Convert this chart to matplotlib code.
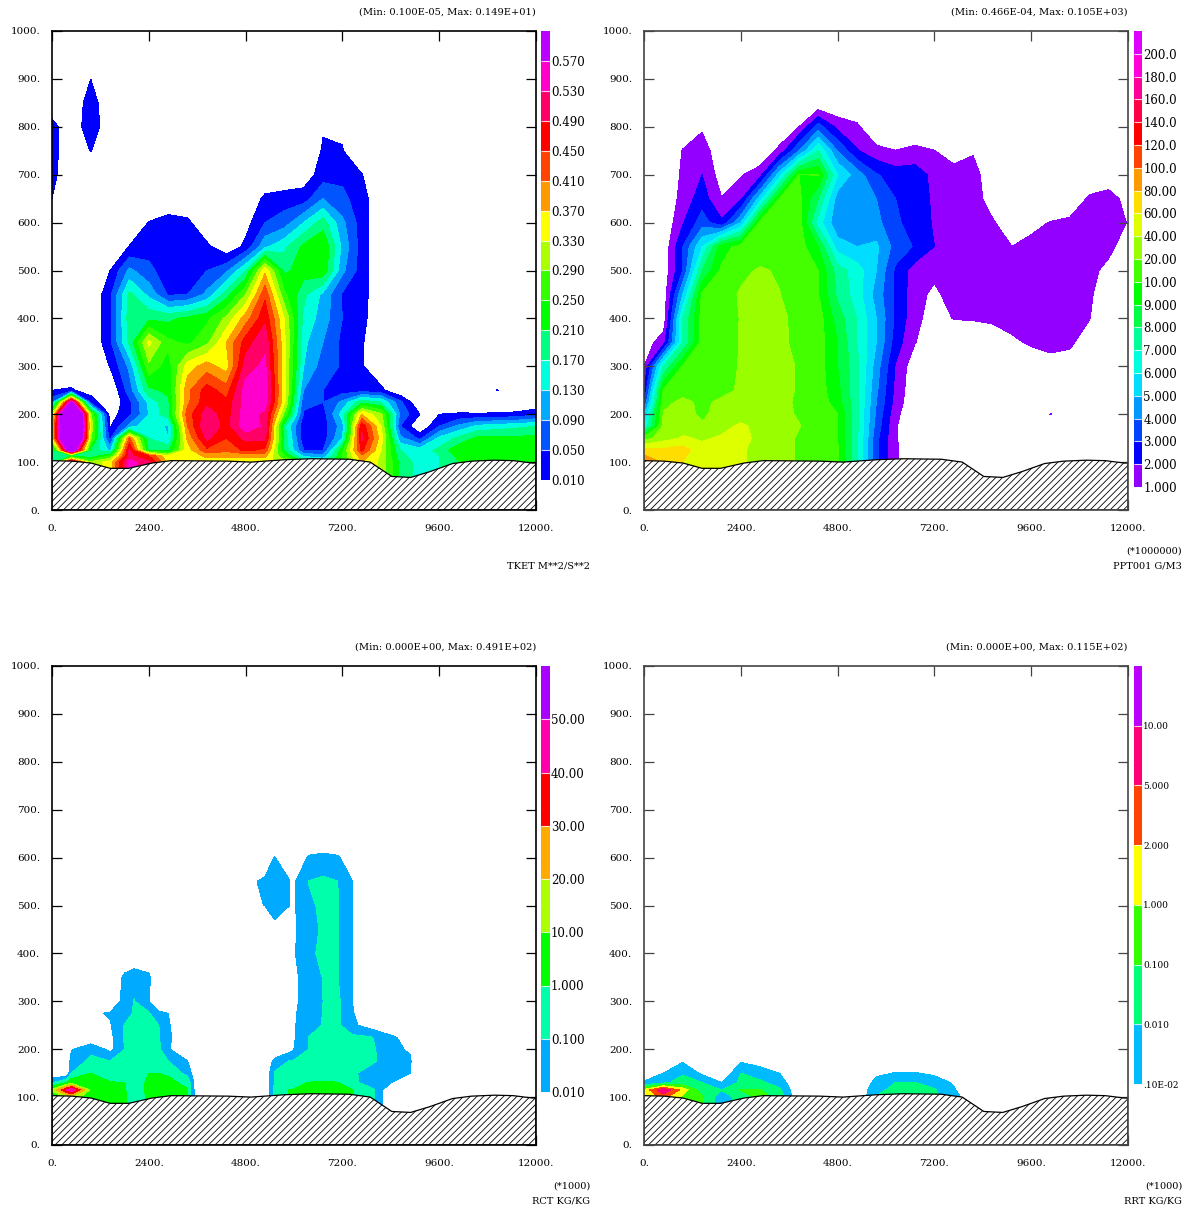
import numpy as np
import matplotlib
matplotlib.use("Agg")
from matplotlib import pyplot as plt

plt.rcParams['font.family'] = 'DejaVu Serif'
plt.rcParams['hatch.linewidth'] = 0.6

W, H = 1189, 1207

xticks = [0, 2400, 4800, 7200, 9600, 12000]
yticks = [0, 100, 200, 300, 400, 500, 600, 700, 800, 900, 1000]

terrain_x = [0, 500, 970, 1440, 1900, 2480, 2950, 4360, 4930, 5780, 6430, 7370, 7890, 8425, 8895, 9367, 9932, 10403, 10969, 11440, 11910, 12000]
terrain_z = [103, 102, 98, 87, 87, 98, 103, 102, 100, 105, 107, 106, 100, 70, 68, 80, 97, 102, 104, 103, 98, 98]

grid_x = [0, 480, 960, 1440, 1920, 2400, 2880, 3360, 3840, 4320, 4800, 5280, 5760, 6240, 6720, 7200, 7680, 8160, 8640, 9120, 9600, 10080, 10560, 11040, 11520, 12000]
grid_z = [100, 125, 150, 175, 200, 225, 250, 300, 350, 400, 450, 500, 550, 600, 650, 700, 750, 800, 850, 900, 950]

# TKET
tke_z = [100, 113, 125, 150, 175, 200, 225, 250, 300, 350, 400, 450, 500, 550, 600, 650, 700, 750, 800, 850, 900, 950]
tke_levels = [0.01, 0.05, 0.09, 0.13, 0.17, 0.21, 0.25, 0.29, 0.33, 0.37, 0.41, 0.45, 0.49, 0.53, 0.57]
tke_colors = ['#0000ff', '#0055ff', '#00aaff', '#00ffdd', '#00ff80', '#00ff00', '#33ff00', '#aaff00', '#ffff00', '#ff9900', '#ff4400', '#ff0000', '#ff0066', '#ff00cc', '#bb00ff']
tke = [
    [.15, .55, .30, .35, .55, .50, .36, .33, .35, .35, .35, .35, .30, .22, .18, .25, .37, .32, .20, .15, .17, .21, .22, .22, .22, .22],
    [.20, .20, .18, .25, .50, .45, .33, .34, .38, .38, .38, .38, .25, .12, .10, .25, .40, .32, .18, .15, .17, .22, .23, .23, .23, .23],
    [.15, .80, .20, .12, .50, .20, .20, .35, .44, .42, .46, .44, .20, .05, .05, .24, .46, .33, .17, .15, .18, .24, .24, .24, .25, .24],
    [.33, 1.40, .30, .03, .42, .17, .13, .38, .50, .45, .50, .50, .20, .02, .03, .13, .50, .35, .10, .04, .14, .18, .22, .22, .22, .22],
    [.33, 1.45, .32, .009, .10, .17, .12, .41, .53, .47, .56, .52, .18, .02, .03, .11, .48, .33, .05, 0, .05, .10, .14, .15, .16, .17],
    [.30, 1.40, .30, .005, .04, .13, .20, .43, .51, .47, .55, .52, .28, .045, .03, .15, .37, .30, .08, .01, .01, .015, .014, .015, .02, .04],
    [.08, .62, .035, 0, .04, .14, .20, .40, .48, .46, .55, .55, .34, .06, .05, .10, .20, .17, .06, 0, 0, 0, 0, 0, 0, 0],
    [.01, .015, .005, 0, .07, .20, .22, .40, .47, .43, .55, .56, .34, .09, .05, .03, .03, .02, 0, 0, 0, 0, 0, .012, 0, 0],
    [0, 0, 0, .012, .10, .28, .23, .35, .39, .35, .51, .54, .34, .13, .07, .045, .015, 0, 0, 0, 0, 0, 0, 0, 0, 0],
    [0, 0, 0, .04, .18, .34, .26, .24, .28, .37, .47, .52, .34, .14, .09, .04, .015, 0, 0, 0, 0, 0, 0, 0, 0, 0],
    [0, 0, 0, .04, .19, .20, .20, .22, .24, .30, .39, .48, .33, .16, .11, .05, .025, 0, 0, 0, 0, 0, 0, 0, 0, 0],
    [0, 0, 0, .04, .18, .12, .045, .05, .10, .19, .29, .44, .26, .18, .12, .045, .03, 0, 0, 0, 0, 0, 0, 0, 0, 0],
    [0, 0, 0, .01, .10, .06, .03, .03, .05, .08, .17, .36, .20, .23, .24, .10, .03, 0, 0, 0, 0, 0, 0, 0, 0, 0],
    [0, 0, 0, 0, .012, .035, .03, .03, .02, .002, .02, .12, .16, .22, .25, .12, .03, 0, 0, 0, 0, 0, 0, 0, 0, 0],
    [0, 0, 0, 0, 0, .012, .03, .02, 0, 0, .006, .05, .07, .13, .19, .10, .03, 0, 0, 0, 0, 0, 0, 0, 0, 0],
    [.01, 0, 0, 0, 0, 0, 0, 0, 0, 0, 0, .02, .03, .03, .09, .06, .03, 0, 0, 0, 0, 0, 0, 0, 0, 0],
    [.025, 0, 0, 0, 0, 0, 0, 0, 0, 0, 0, 0, 0, .004, .03, .04, .012, 0, 0, 0, 0, 0, 0, 0, 0, 0],
    [.03, 0, .012, 0, 0, 0, 0, 0, 0, 0, 0, 0, 0, 0, .015, .012, 0, 0, 0, 0, 0, 0, 0, 0, 0, 0],
    [.03, 0, .045, 0, 0, 0, 0, 0, 0, 0, 0, 0, 0, 0, .009, .0085, 0, 0, 0, 0, 0, 0, 0, 0, 0, 0],
    [0, 0, .035, 0, 0, 0, 0, 0, 0, 0, 0, 0, 0, 0, 0, 0, 0, 0, 0, 0, 0, 0, 0, 0, 0, 0],
    [0, 0, .010, 0, 0, 0, 0, 0, 0, 0, 0, 0, 0, 0, 0, 0, 0, 0, 0, 0, 0, 0, 0, 0, 0, 0],
    [0] * 26,
]

# PPT001
ppt_levels = [1, 2, 3, 4, 5, 6, 7, 8, 9, 10, 20, 40, 60, 80, 100, 120, 140, 160, 180, 200]
ppt_colors = ['#9400ff', '#0000ff', '#0044ff', '#0099ff', '#00ddff', '#00ffdd', '#00ff99', '#00ff44', '#00ff00', '#44ff00', '#99ff00', '#ddff00', '#ffdd00', '#ff9900', '#ff4400', '#ff0000', '#ff0044', '#ff0099', '#ff00dd', '#dd00ff']
ppt = [
    [95, 78, 60, 50, 45, 44, 30, 27, 19, 16, 10.7, 7.2, 3.2, 1.2, 0, 0, 0, 0, 0, 0, 0, 0, 0, 0, 0, 0],
    [70, 65, 70, 45, 46, 44, 30, 27, 19, 16, 10.7, 7.2, 3.2, 1.2, 0, 0, 0, 0, 0, 0, 0, 0, 0, 0, 0, 0],
    [15, 32, 42, 38, 42, 47, 34, 27, 19, 16, 10.5, 7.2, 3.3, 1.1, 0, 0, 0, 0, 0, 0, 0, 0, 0, 0, 0, 0],
    [6, 25, 33, 23, 35, 43, 35, 27, 21, 16, 10.3, 7.2, 3.6, 1.1, 0, 0, 0, 0, 0, 0, 0, 0, 0, 0, 0, 0],
    [5, 22, 28, 18, 28, 32, 31, 26, 19, 16, 10.1, 7.2, 3.8, 1.3, 0, 0, 0, 0, 0, 0, 0, 1.05, 0, 0, 0, 0],
    [3, 17, 25, 18, 24, 28, 31, 27, 18, 16, 9.5, 7.2, 4, 1.6, .1, 0, 0, 0, 0, 0, 0, 0, 0, 0, 0, 0],
    [2, 11, 16, 17, 17, 23, 31, 27, 19, 15, 9.3, 7.2, 4.2, 1.7, .2, 0, 0, 0, 0, 0, 0, 0, 0, 0, 0, 0],
    [1, 7, 11, 15, 15, 22, 30, 28, 19, 15, 9, 7.3, 4.5, 1.9, .3, 0, 0, 0, 0, 0, .3, .5, .5, 0, 0, 0],
    [.5, 1.5, 7, 14, 16, 21, 28, 25, 17, 15, 9, 7, 5, 2.5, 1.05, 0, 0, 0, .5, .8, 1.15, 1.4, 1.2, .4, 0, 0],
    [0, .3, 7, 14, 15, 21, 28, 23, 18, 15, 8.5, 7, 5, 2.8, 1.3, .5, 1.05, 1.1, 1.15, 1.4, 1.5, 1.5, 1.4, 1.05, 0, 0],
    [0, .3, 5, 12, 16, 22, 28, 20.5, 16, 10.5, 7.8, 6.5, 4.6, 2.8, 1.4, .75, 1.5, 1.5, 1.5, 1.5, 1.5, 1.4, 1.4, 1.1, .6, 0],
    [0, .3, 3, 8, 12, 18, 22, 19, 15, 10, 7.5, 6.5, 5, 2.8, 1.5, 1.3, 1.5, 1.5, 1.4, 1.4, 1.4, 1.4, 1.3, 1.2, .8, .3],
    [0, .2, 3, 6, 9.5, 14, 15, 15, 15, 9, 5.5, 5, 5.2, 3.6, 2.9, 2, 1.5, 1.4, 1.3, 1, 1.3, 1.4, 1.4, 1.4, 1.2, .6],
    [0, .1, 1.9, 3.5, 2.2, 5, 13, 15, 15, 6.5, 4.2, 4.5, 4.3, 3.2, 2.5, 1.9, 1.5, 1.4, 1.1, .5, .7, 1.05, 1.3, 1.4, 1.5, .95],
    [0, 0, 1.4, 2.5, 1.05, 1.8, 5.5, 10, 13, 8, 4.5, 4.2, 4, 3, 2.3, 1.9, 1.5, 1.4, .6, 0, 0, 0, 0, 1.2, 1.6, .5],
    [0, 0, 1.2, 2, .5, .9, 1.6, 5.5, 10, 10.5, 6, 4.5, 3.1, 2.5, 2.5, 1.7, 1.4, 1.4, .3, 0, 0, 0, 0, 0, 0, 0],
    [0, 0, 1.05, 1.7, 0, 0, 0, 1.3, 4, 7, 4, 2.1, 1.3, 1.02, 1.3, 1.02, .5, .9, 0, 0, 0, 0, 0, 0, 0, 0],
    [0, 0, .3, .8, 0, 0, 0, 0, 1, 3.5, 1.7, 1.2, 0, 0, 0, 0, 0, 0, 0, 0, 0, 0, 0, 0, 0, 0],
    [0] * 26,
    [0] * 26,
    [0] * 26,
]

# RCT, own columns and rows
rct_x = [0, 360, 480, 960, 1440, 1800, 2040, 2400, 2640, 2880, 3360, 3600, 5280, 5520, 5880, 5950, 6000, 6360, 6720, 7080, 7440, 7920, 8400, 8880, 9120, 12000]
rct_z = [100, 115, 130, 150, 175, 200, 225, 250, 275, 300, 350, 400, 450, 500, 550, 600, 650]
rct_levels = [0.01, 0.1, 1, 10, 20, 30, 40, 50]
rct_colors = ['#00aaff', '#00ffaa', '#00ff00', '#aaff00', '#ffaa00', '#ff0000', '#ff00aa', '#aa00ff']
rct = [
    [5, 10, 15, 5, 3, 3, .3, 3, 5, 4, 1.5, 0, 0, .3, 1.5, 1.5, 2, 3, 3, 3, 1.5, .5, 0, 0, 0, 0],
    [12, 40, 49, 8, 3, 2, .3, 4, 9, 4, 1.5, 0, 0, .3, 1.5, 1.5, 2, 3, 3, 3, 1.5, .5, 0, 0, 0, 0],
    [.1, 2, 8, 3, 2, 1.2, .5, 3, 3.5, 3, .8, 0, 0, .2, .3, .4, .5, 1.5, 2, 1.5, .6, .011, .011, 0, 0, 0],
    [0, 0, .1, 1.05, .15, .2, .25, 1, 1, .9, .07, 0, 0, .2, .3, .3, .3, .3, .3, .3, .3, .05, .02, .012, 0, 0],
    [0, 0, .05, .3, .11, .3, .3, .3, .3, .12, .012, 0, 0, .04, .15, .2, .2, .3, .3, .3, .3, .3, .05, .02, 0, 0],
    [0, 0, .009, .08, .007, .1, .3, .3, .3, .02, 0, 0, 0, 0, .006, .008, .011, .1, .3, .3, .3, .3, .03, .009, 0, 0],
    [0, 0, 0, 0, .007, .2, .3, .3, .2, .03, 0, 0, 0, 0, 0, 0, .009, .1, .3, .3, .3, .15, .03, .005, 0, 0],
    [0, 0, 0, 0, .009, .15, .3, .3, .13, .02, 0, 0, 0, 0, 0, 0, .009, .07, .15, .3, .03, .005, 0, 0, 0, 0],
    [0, 0, 0, .008, .02, .06, .2, .2, .03, .01, 0, 0, 0, 0, 0, 0, .009, .05, .12, .3, .02, 0, 0, 0, 0, 0],
    [0, 0, 0, 0, 0, .05, .15, .012, 0, 0, 0, 0, 0, 0, 0, 0, .009, .03, .1, .3, .011, 0, 0, 0, 0, 0],
    [0, 0, 0, 0, 0, .03, .06, .03, 0, 0, 0, 0, 0, 0, 0, 0, .009, .03, .15, .15, .011, 0, 0, 0, 0, 0],
    [0, 0, 0, 0, 0, 0, 0, 0, 0, 0, 0, 0, 0, 0, 0, 0, .009, .09, .2, .15, .011, 0, 0, 0, 0, 0],
    [0, 0, 0, 0, 0, 0, 0, 0, 0, 0, 0, 0, 0, .007, 0, 0, .009, .05, .3, .15, .011, 0, 0, 0, 0, 0],
    [0, 0, 0, 0, 0, 0, 0, 0, 0, 0, 0, 0, .012, .05, .012, 0, .009, .08, .3, .15, .011, 0, 0, 0, 0, 0],
    [0, 0, 0, 0, 0, 0, 0, 0, 0, 0, 0, 0, .022, .05, .02, 0, .009, .12, .3, .12, .012, 0, 0, 0, 0, 0],
    [0, 0, 0, 0, 0, 0, 0, 0, 0, 0, 0, 0, .005, .015, 0, 0, 0, .02, .03, .02, .005, 0, 0, 0, 0, 0],
    [0] * 26,
]

# RRT
rrt_z = [100, 115, 130, 150, 175, 200]
rrt_levels = [0.001, 0.01, 0.1, 1, 2, 5, 10]
rrt_colors = ['#00bbff', '#00ff77', '#33ff00', '#ffff00', '#ff4400', '#ff0077', '#bb00ff']
rrt = [
    [1.1, 3, .8, .2, .005, .05, .3, .08, 0, 0, 0, 0, .015, .04, .05, .03, .005, .0002, 0, 0, 0, 0, 0, 0, 0, 0],
    [1.2, 9.5, 1.6, .05, .011, .15, .15, .03, 0, 0, 0, 0, .008, .03, .04, .02, .002, 0, 0, 0, 0, 0, 0, 0, 0, 0],
    [.003, .008, .05, .012, .0012, .03, .03, .006, 0, 0, 0, 0, .004, .012, .015, .006, .0009, 0, 0, 0, 0, 0, 0, 0, 0, 0],
    [0, .001, .009, .0008, 0, .011, .005, .001, 0, 0, 0, 0, .0008, .0015, .0015, .0008, 0, 0, 0, 0, 0, 0, 0, 0, 0, 0],
    [0, 0, .0009, 0, 0, .0009, .0006, 0, 0, 0, 0, 0, 0, 0, 0, 0, 0, 0, 0, 0, 0, 0, 0, 0, 0, 0],
    [0] * 26,
]


def px_axes(left, top, right, bottom):
    return plt.axes([left / W, 1 - bottom / H, (right - left) / W, (bottom - top) / H])


def panel(box, x, z, values, levels, colors, labels, bar, minmax, notes, spine, vmax, bar_size=8.5):
    ax = px_axes(*box)
    n = len(levels)
    # colour classes are even steps whatever the level value, so contour on class number
    # vmax is the field maximum, it sits well past the last class so the top colour has width
    classes = np.interp(np.array(values, dtype=float), [0] + levels + [vmax], list(range(n + 1)) + [n + 10])
    classes = np.vstack([classes[0], classes])
    zz = [50] + z
    ax.contourf(x, zz, classes, levels=np.arange(1, n + 1), colors=colors, extend='max')
    ax.fill_between(terrain_x, 0, terrain_z, facecolor='white', edgecolor='black', hatch='/////', lw=0.9, zorder=3)
    ax.set_xlim(0, 12000)
    ax.set_ylim(0, 1000)
    ax.set_xticks(xticks)
    ax.set_xticklabels([str(t) + '.' for t in xticks], fontsize=7.5)
    ax.set_yticks(yticks)
    ax.set_yticklabels([str(t) + '.' for t in yticks], fontsize=7.5)
    ax.tick_params(axis='both', direction='in', length=7, width=0.9, top=True, right=True, color=spine, zorder=5)
    ax.tick_params(axis='x', pad=10)
    ax.tick_params(axis='y', pad=8.5)
    ax.set_axisbelow(False)
    for s in ax.spines.values():
        s.set_linewidth(1.2)
        s.set_color(spine)
        s.set_zorder(6)
    fig.text(box[2] / W, 1 - (box[1] - 19) / H, minmax, fontsize=7.1, ha='right', va='center')
    for txt, yy in notes:
        fig.text((box[2] + 54) / W, 1 - yy / H, txt, fontsize=7, ha='right', va='center')

    cb = px_axes(*bar)
    cb.pcolormesh([0, 1], np.arange(n + 1), np.arange(n).reshape(-1, 1), cmap=matplotlib.colors.ListedColormap(colors), vmin=-.5, vmax=n - .5, edgecolors='none')
    cb.hlines(np.arange(1, n), 0, 1, color='white', lw=0.8, alpha=0.8)
    cb.set_xlim(0, 1)
    cb.set_ylim(0, n)
    cb.set_xticks([])
    cb.set_yticks(np.arange(n))
    cb.set_yticklabels(labels, fontsize=bar_size)
    cb.yaxis.tick_right()
    cb.tick_params(axis='y', length=0, pad=1)
    for s in cb.spines.values():
        s.set_visible(False)


fig = plt.figure(figsize=(W / 100, H / 100), dpi=100)

panel((52, 31, 536, 510), grid_x, tke_z, tke, tke_levels, tke_colors,
      ['0.010', '0.050', '0.090', '0.130', '0.170', '0.210', '0.250', '0.290', '0.330', '0.370', '0.410', '0.450', '0.490', '0.530', '0.570'],
      (541, 31, 549.5, 480), '(Min: 0.100E-05, Max: 0.149E+01)', [('TKET M**2/S**2', 566)], 'black', 1.49)
panel((644, 31, 1128, 510), grid_x, grid_z, ppt, ppt_levels, ppt_colors,
      ['1.000', '2.000', '3.000', '4.000', '5.000', '6.000', '7.000', '8.000', '9.000', '10.00', '20.00', '40.00', '60.00', '80.00', '100.0', '120.0', '140.0', '160.0', '180.0', '200.0'],
      (1134, 31, 1142, 487), '(Min: 0.466E-04, Max: 0.105E+03)', [('(*1000000)', 551), ('PPT001 G/M3', 566)], '#444444', 400)
panel((52, 666, 536, 1145), rct_x, rct_z, rct, rct_levels, rct_colors,
      ['0.010', '0.100', '1.000', '10.00', '20.00', '30.00', '40.00', '50.00'],
      (541, 666, 549.5, 1092), '(Min: 0.000E+00, Max: 0.491E+02)', [('(*1000)', 1186), ('RCT KG/KG', 1201)], 'black', 100)
panel((644, 666, 1128, 1145), grid_x, rrt_z, rrt, rrt_levels, rrt_colors,
      ['.10E-02', '0.010', '0.100', '1.000', '2.000', '5.000', '10.00'],
      (1134, 666, 1142, 1084), '(Min: 0.000E+00, Max: 0.115E+02)', [('(*1000)', 1186), ('RRT KG/KG', 1201)], '#444444', 11.5, bar_size=6.5)

plt.savefig('out.png', dpi=100)
